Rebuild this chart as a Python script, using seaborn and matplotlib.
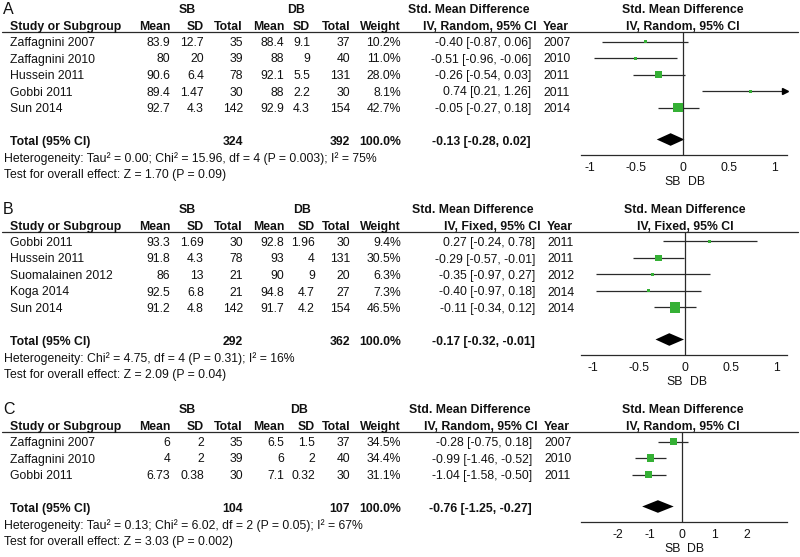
import matplotlib
matplotlib.use("Agg")
import matplotlib.pyplot as plt
import numpy as np
import pandas as pd
import seaborn as sns

# %% panel A - random effects
a_study = ["Zaffagnini 2007", "Zaffagnini 2010", "Hussein 2011", "Gobbi 2011", "Sun 2014"]
a_sb_mean = [83.9, 80, 90.6, 89.4, 92.7]
a_sb_sd = [12.7, 20, 6.4, 1.47, 4.3]
a_sb_n = [35, 39, 78, 30, 142]
a_db_mean = [88.4, 88, 92.1, 88, 92.9]
a_db_sd = [9.1, 9, 5.5, 2.2, 4.3]
a_db_n = [37, 40, 131, 30, 154]
a_weight = [10.2, 11.0, 28.0, 8.1, 42.7]
a_smd = [-0.40, -0.51, -0.26, 0.74, -0.05]
a_lo = [-0.87, -0.96, -0.54, 0.21, -0.27]
a_hi = [0.06, -0.06, 0.03, 1.26, 0.18]
a_year = [2007, 2010, 2011, 2011, 2014]
a_tot_n = [324, 392]
a_tot_smd = [-0.13, -0.28, 0.02]
a_het = "Heterogeneity: Tau² = 0.00; Chi² = 15.96, df = 4 (P = 0.003); I² = 75%"
a_test = "Test for overall effect: Z = 1.70 (P = 0.09)"

# %% panel B - fixed effects
b_study = ["Gobbi 2011", "Hussein 2011", "Suomalainen 2012", "Koga 2014", "Sun 2014"]
b_sb_mean = [93.3, 91.8, 86, 92.5, 91.2]
b_sb_sd = [1.69, 4.3, 13, 6.8, 4.8]
b_sb_n = [30, 78, 21, 21, 142]
b_db_mean = [92.8, 93, 90, 94.8, 91.7]
b_db_sd = [1.96, 4, 9, 4.7, 4.2]
b_db_n = [30, 131, 20, 27, 154]
b_weight = [9.4, 30.5, 6.3, 7.3, 46.5]
b_smd = [0.27, -0.29, -0.35, -0.40, -0.11]
b_lo = [-0.24, -0.57, -0.97, -0.97, -0.34]
b_hi = [0.78, -0.01, 0.27, 0.18, 0.12]
b_year = [2011, 2011, 2012, 2014, 2014]
b_tot_n = [292, 362]
b_tot_smd = [-0.17, -0.32, -0.01]
b_het = "Heterogeneity: Chi² = 4.75, df = 4 (P = 0.31); I² = 16%"
b_test = "Test for overall effect: Z = 2.09 (P = 0.04)"

# %% panel C - random effects
c_study = ["Zaffagnini 2007", "Zaffagnini 2010", "Gobbi 2011"]
c_sb_mean = [6, 4, 6.73]
c_sb_sd = [2, 2, 0.38]
c_sb_n = [35, 39, 30]
c_db_mean = [6.5, 6, 7.1]
c_db_sd = [1.5, 2, 0.32]
c_db_n = [37, 40, 30]
c_weight = [34.5, 34.4, 31.1]
c_smd = [-0.28, -0.99, -1.04]
c_lo = [-0.75, -1.46, -1.58]
c_hi = [0.18, -0.52, -0.50]
c_year = [2007, 2010, 2011]
c_tot_n = [104, 107]
c_tot_smd = [-0.76, -1.25, -0.27]
c_het = "Heterogeneity: Tau² = 0.13; Chi² = 6.02, df = 2 (P = 0.05); I² = 67%"
c_test = "Test for overall effect: Z = 3.03 (P = 0.002)"

sns.set_style("white")
plt.rcParams["font.family"] = ["Liberation Sans", "DejaVu Sans"]
plt.rcParams["axes.unicode_minus"] = False

W, H = 800, 557
FS = 8.8
GREEN = "#35b035"
LINE = "#2a2a2a"

fig = plt.figure(figsize=(8, 5.57), dpi=100)
bg = fig.add_axes([0, 0, 1, 1])
bg.set_xlim(0, W)
bg.set_ylim(H, 0)
bg.axis("off")


def txt(x, y, s, ha="right", bold=False, size=FS):
    bg.text(x, y, s, ha=ha, va="center", fontsize=size,
            fontweight="bold" if bold else "normal", color="#111111")


def fmt(v):
    return f"{v:g}"


def ci(e, l, h):
    return f"{e:.2f} [{l:.2f}, {h:.2f}]"


def panel(top, letter, df, tot_n, tot_smd, method, het, test, xlim, ticks,
          sd2_x=310, shift=0, db_c=296):
    rows = top + 33 + 16.5 * np.arange(len(df))
    y2 = top + 17
    yline = top + 22
    ytot = rows[-1] + 33
    yaxis = ytot + 13

    # header rows
    txt(3, top, letter, ha="left", size=11.5)
    txt(187, top, "SB", ha="center", bold=True)
    txt(db_c, top, "DB", ha="center", bold=True)
    txt(469 + shift, top, "Std. Mean Difference", ha="center", bold=True)
    txt(10, y2, "Study or Subgroup", ha="left", bold=True)
    for x, s in [(170, "Mean"), (204, "SD"), (243, "Total"), (284, "Mean"),
                 (sd2_x, "SD"), (350, "Total"), (401, "Weight"), (537 + shift, method)]:
        txt(x, y2, s, bold=True)
    txt(543 + shift, y2, "Year", ha="left", bold=True)
    bg.plot([2, 798], [yline, yline], color=LINE, lw=0.9)

    # study rows
    for i, r in df.iterrows():
        y = rows[i]
        txt(10, y, r["study"], ha="left")
        txt(170, y, fmt(r["sb_mean"]))
        txt(204, y, fmt(r["sb_sd"]))
        txt(243, y, fmt(r["sb_n"]))
        txt(284, y, fmt(r["db_mean"]))
        txt(sd2_x, y, fmt(r["db_sd"]))
        txt(350, y, fmt(r["db_n"]))
        txt(401, y, f"{r['weight']:.1f}%")
        txt(531 + shift, y, ci(r["smd"], r["lo"], r["hi"]))
        txt(543 + shift, y, str(int(r["year"])), ha="left")

    # totals and footer
    txt(10, ytot, "Total (95% CI)", ha="left", bold=True)
    txt(243, ytot, str(tot_n[0]), bold=True)
    txt(350, ytot, str(tot_n[1]), bold=True)
    txt(401, ytot, "100.0%", bold=True)
    txt(531 + shift, ytot, ci(*tot_smd), bold=True)
    txt(4, ytot + 16.5, het, ha="left")
    txt(4, ytot + 33, test, ha="left")

    # forest plot
    ax = fig.add_axes([581 / W, 1 - yaxis / H, 206 / W, (yaxis - yline) / H])
    ax.set_facecolor("none")
    df = df.copy()
    df["ypos"] = rows - 1.5
    side = np.maximum(0.21 * df["weight"] + 0.5, 3.0) * 0.72
    df["area"] = side ** 2
    hi_clip = np.minimum(df["hi"], xlim[1] - 0.01 * (xlim[1] - xlim[0]))
    ax.hlines(df["ypos"], df["lo"], hi_clip, color=LINE, lw=0.9)
    over = df["hi"] > xlim[1]
    if over.any():
        ax.plot(hi_clip[over], df["ypos"][over], marker=">", ms=4,
                color="black", lw=0, clip_on=False)
    sns.scatterplot(data=df, x="smd", y="ypos", size="area",
                    sizes=(df["area"].min(), df["area"].max()),
                    marker="s", color=GREEN, linewidth=0, legend=False, ax=ax, zorder=3)
    ax.axvline(0, color=LINE, lw=0.9)
    e, l, h = tot_smd
    yd = ytot - 2.5
    ax.fill([l, e, h, e], [yd, yd - 6.3, yd, yd + 6.3], color="black", lw=0)
    ax.set_xlim(xlim)
    ax.set_ylim(yaxis, yline)
    for s in ["top", "right", "left"]:
        ax.spines[s].set_visible(False)
    ax.spines["bottom"].set_color(LINE)
    ax.spines["bottom"].set_linewidth(0.9)
    ax.set_yticks([])
    ax.set_xticks(ticks)
    ax.set_xticklabels([fmt(t) for t in ticks])
    ax.tick_params(axis="x", direction="inout", length=7, width=0.9,
                   color=LINE, labelsize=FS, pad=1.5, labelcolor="#111111")
    ax.set_xlabel("")
    ax.set_ylabel("")

    x0 = 581 + (0 - xlim[0]) / (xlim[1] - xlim[0]) * 206
    txt(x0, top, "Std. Mean Difference", ha="center", bold=True)
    txt(x0, y2, method, ha="center", bold=True)
    txt(x0 - 2, yaxis + 27, "SB", ha="right")
    txt(x0 + 5, yaxis + 27, "DB", ha="left")


def frame(study, sb_mean, sb_sd, sb_n, db_mean, db_sd, db_n, weight, smd, lo, hi, year):
    return pd.DataFrame({"study": study, "sb_mean": sb_mean, "sb_sd": sb_sd, "sb_n": sb_n,
                         "db_mean": db_mean, "db_sd": db_sd, "db_n": db_n, "weight": weight,
                         "smd": smd, "lo": lo, "hi": hi, "year": year})


dfa = frame(a_study, a_sb_mean, a_sb_sd, a_sb_n, a_db_mean, a_db_sd, a_db_n,
            a_weight, a_smd, a_lo, a_hi, a_year)
dfb = frame(b_study, b_sb_mean, b_sb_sd, b_sb_n, b_db_mean, b_db_sd, b_db_n,
            b_weight, b_smd, b_lo, b_hi, b_year)
dfc = frame(c_study, c_sb_mean, c_sb_sd, c_sb_n, c_db_mean, c_db_sd, c_db_n,
            c_weight, c_smd, c_lo, c_hi, c_year)

panel(10, "A", dfa, a_tot_n, a_tot_smd, "IV, Random, 95% CI", a_het, a_test,
      (-1.10, 1.13), [-1, -0.5, 0, 0.5, 1])
panel(210, "B", dfb, b_tot_n, b_tot_smd, "IV, Fixed, 95% CI", b_het, b_test,
      (-1.13, 1.11), [-1, -0.5, 0, 0.5, 1], sd2_x=315, shift=4, db_c=302)
panel(410, "C", dfc, c_tot_n, c_tot_smd, "IV, Random, 95% CI", c_het, c_test,
      (-3.15, 3.25), [-2, -1, 0, 1, 2], sd2_x=315, shift=1, db_c=299)

fig.savefig("out.png", dpi=100)
